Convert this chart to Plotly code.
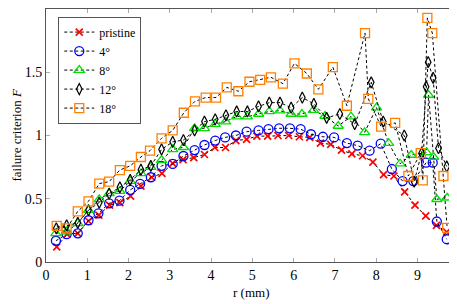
import plotly.graph_objects as go

# ---- data ----
r_pristine = [0.26, 0.51, 0.77, 1.03, 1.28, 1.54, 1.79, 2.05, 2.30, 2.56, 2.81, 3.07, 3.32, 3.58,
              3.84, 4.09, 4.35, 4.60, 4.86, 5.11, 5.37, 5.62, 5.88, 6.14, 6.39, 6.65, 6.90, 7.16,
              7.41, 7.67, 7.92, 8.18, 8.43, 8.69, 8.94, 9.20, 9.46, 9.71]
F_pristine = [0.12, 0.22, 0.227, 0.324, 0.37, 0.45, 0.47, 0.52, 0.60, 0.67, 0.70, 0.78, 0.81, 0.825,
              0.85, 0.905, 0.905, 0.96, 0.97, 0.995, 0.995, 1.0, 1.0, 0.99, 0.985, 0.94, 0.93, 0.885,
              0.855, 0.84, 0.79, 0.69, 0.68, 0.555, 0.45, 0.364, 0.29, 0.237]

r_4 = [0.24, 0.50, 0.77, 1.03, 1.27, 1.53, 1.78, 2.04, 2.28, 2.54, 2.80, 3.07, 3.33, 3.60,
       3.84, 4.10, 4.34, 4.60, 4.86, 5.15, 5.39, 5.65, 5.91, 6.17, 6.42, 6.71, 6.98, 7.29,
       7.55, 7.84, 8.11, 8.38, 8.64, 8.90, 9.21, 9.37, 9.47, 9.71]
F_4 = [0.168, 0.22, 0.227, 0.33, 0.385, 0.464, 0.485, 0.57, 0.617, 0.67, 0.76, 0.775, 0.838, 0.885,
       0.925, 0.96, 0.985, 1.0, 1.03, 1.04, 1.05, 1.057, 1.057, 1.05, 1.01, 0.99, 0.985, 0.94,
       0.92, 0.88, 0.935, 0.735, 0.64, 0.64, 0.785, 0.785, 0.32, 0.18]

r_8 = [0.24, 0.50, 0.77, 1.03, 1.29, 1.53, 1.79, 2.04, 2.30, 2.54, 2.80, 3.07, 3.33, 3.60,
       3.84, 4.10, 4.35, 4.62, 4.88, 5.15, 5.41, 5.67, 5.94, 6.20, 6.48, 6.76, 7.08, 7.39,
       7.72, 8.01, 8.30, 8.58, 8.85, 9.22, 9.27, 9.39, 9.47, 9.72]
F_8 = [0.227, 0.24, 0.306, 0.41, 0.495, 0.543, 0.56, 0.64, 0.70, 0.75, 0.806, 0.89, 0.907, 1.057,
       1.057, 1.09, 1.11, 1.15, 1.15, 1.17, 1.19, 1.196, 1.17, 1.17, 1.20, 1.154, 1.075, 1.15,
       1.025, 1.22, 0.94, 0.777, 0.846, 0.866, 1.32, 0.83, 0.496, 0.508]

r_12 = [0.25, 0.50, 0.77, 1.03, 1.29, 1.53, 1.79, 2.04, 2.30, 2.54, 2.80, 3.07, 3.33, 3.60,
        3.84, 4.10, 4.36, 4.62, 4.88, 5.15, 5.41, 5.67, 5.94, 6.21, 6.49, 6.80, 7.12, 7.48,
        7.88, 8.17, 8.68, 8.92, 9.10, 9.21, 9.26, 9.38, 9.51, 9.71]
F_12 = [0.266, 0.29, 0.31, 0.41, 0.47, 0.54, 0.59, 0.65, 0.73, 0.76, 0.89, 0.95, 0.964, 1.04,
        1.11, 1.128, 1.16, 1.19, 1.19, 1.23, 1.26, 1.26, 1.22, 1.30, 1.25, 1.14, 1.17, 1.09,
        1.42, 1.11, 1.0, 0.635, 0.86, 1.386, 1.58, 1.455, 0.90, 0.755]

r_18 = [0.26, 0.50, 0.77, 1.03, 1.29, 1.53, 1.79, 2.04, 2.30, 2.52, 2.80, 3.07, 3.34, 3.61,
        3.87, 4.12, 4.38, 4.66, 4.93, 5.19, 5.45, 5.74, 6.02, 6.32, 6.60, 6.95, 7.29, 7.73,
        7.81, 8.12, 8.46, 8.78, 9.08, 9.13, 9.24, 9.36, 9.63, 9.72]
F_18 = [0.285, 0.266, 0.40, 0.48, 0.62, 0.635, 0.727, 0.76, 0.83, 0.88, 0.978, 1.04, 1.18, 1.27,
        1.30, 1.30, 1.38, 1.35, 1.425, 1.44, 1.46, 1.41, 1.57, 1.49, 1.365, 1.54, 1.235, 1.81,
        1.29, 1.07, 1.10, 0.68, 0.86, 0.645, 1.93, 1.81, 0.68, 0.27]

x_ticks = [0, 1, 2, 3, 4, 5, 6, 7, 8, 9]
y_ticks = [0, 0.5, 1, 1.5, 2]
y_tick_labels = ["0", "0.5", "1", "1.5", "2"]
x_title = "r (mm)"
y_title = "failure criterion <i>F</i>"

series = [
    ("pristine", r_pristine, F_pristine, "x-thin-open", "#ff0000", 7, 1.7),
    ("4°", r_4, F_4, "circle-open", "#0000ff", 9, 1.3),
    ("8°", r_8, F_8, "triangle-up-open", "#00e000", 9, 1.3),
    ("12°", r_12, F_12, "diamond-tall-open", "#000000", 8, 1.2),
    ("18°", r_18, F_18, "square-open", "#ff8000", 9, 1.3),
]

FONT = "'Liberation Serif', 'DejaVu Serif', serif"

fig = go.Figure()
for name, xs, ys, sym, col, size, lw in series:
    fig.add_trace(go.Scatter(
        x=xs, y=ys, name=name, mode="lines+markers",
        line=dict(color="black", width=1, dash="3px,2.5px"),
        marker=dict(symbol=sym, color=col, size=size, line=dict(color=col, width=lw)),
    ))

axis_common = dict(
    showline=True, linecolor="#555555", linewidth=1, mirror="ticks",
    ticks="inside", ticklen=4, tickcolor="#aaaaaa", tickwidth=1,
    showgrid=False, zeroline=False, automargin=False,
    tickfont=dict(family=FONT, size=14, color="black"),
)

# page body has an 8px margin; figure is sized/positioned to compensate
fig.update_layout(
    width=449, height=296,
    margin=dict(l=38, r=2, t=1, b=42),
    paper_bgcolor="white", plot_bgcolor="white",
    font=dict(family=FONT, size=13, color="black"),
    xaxis=dict(range=[0, 9.91], tickvals=x_ticks, **axis_common),
    yaxis=dict(range=[0, 2], tickvals=y_ticks, ticktext=y_tick_labels, **axis_common),
    legend=dict(x=0.03, y=0.97, xanchor="left", yanchor="top",
                bgcolor="white", bordercolor="#555555", borderwidth=1,
                font=dict(family=FONT, size=12), itemwidth=30, tracegroupgap=0,
                entrywidth=40),
    showlegend=True,
    annotations=[
        dict(text=x_title, xref="paper", yref="paper", x=0.5, y=0, yshift=-30,
             xanchor="center", yanchor="middle", showarrow=False,
             font=dict(family=FONT, size=13)),
        dict(text=y_title, xref="paper", yref="paper", x=0, y=0.5, xshift=-30,
             xanchor="center", yanchor="middle", textangle=-90, showarrow=False,
             font=dict(family=FONT, size=13)),
    ],
)

fig.write_html("out.html")
